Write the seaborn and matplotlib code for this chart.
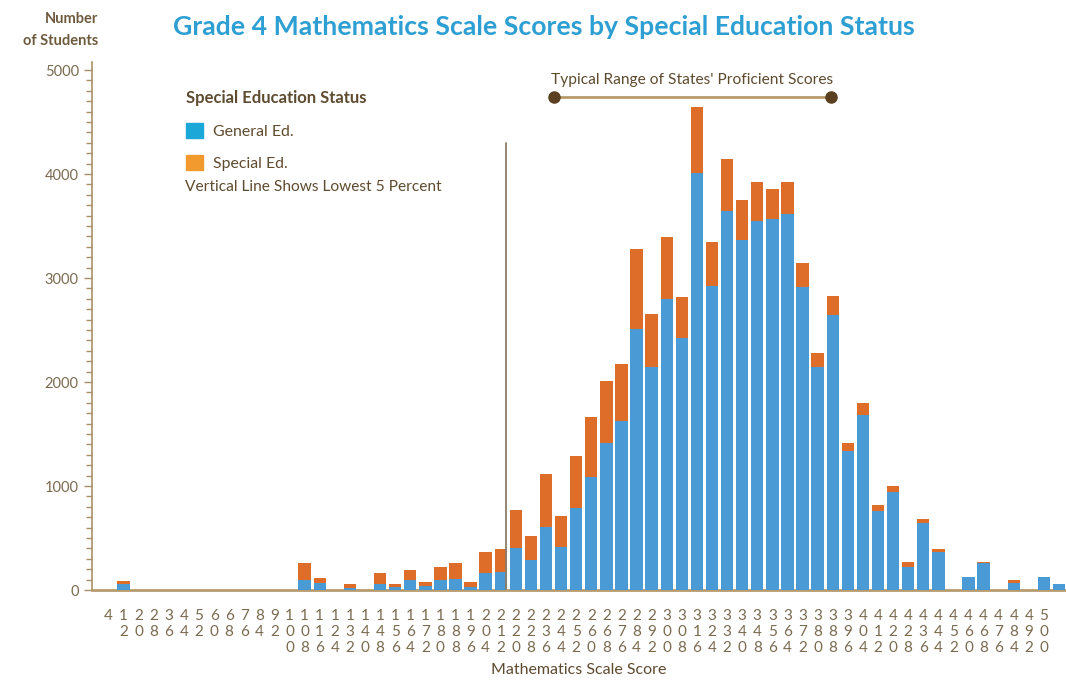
import numpy as np
import pandas as pd
import matplotlib
matplotlib.use("Agg")
import matplotlib.pyplot as plt
from matplotlib.patches import Patch
import seaborn as sns

# STYLE
sns.set_theme(style="white")
plt.rcParams["font.family"] = ["Lato", "DejaVu Sans"]

# DATA
scores = list(range(4, 509, 8))  # bins 4 .. 508

general_ed = [
    0, 55, 0, 0, 0, 0, 0, 0, 0, 0, 0, 0, 0, 96, 64, 0,
    15, 0, 55, 25, 96, 35, 96, 109, 25, 167, 173, 401, 288, 609, 417, 785,
    1090, 1410, 1628, 2510, 2141, 2795, 2420, 4006, 2923, 3647, 3365, 3548, 3564, 3612, 2917, 2147,
    2644, 1340, 1683, 762, 939, 218, 647, 369, 0, 122, 264, 0, 70, 0, 122, 55,
]
special_ed = [
    0, 35, 0, 0, 0, 0, 0, 0, 0, 0, 0, 0, 0, 160, 55, 0,
    40, 0, 105, 33, 96, 40, 122, 147, 49, 202, 218, 368, 231, 503, 298, 503,
    570, 603, 545, 769, 510, 602, 400, 641, 420, 494, 385, 372, 292, 308, 224, 129,
    186, 77, 112, 58, 64, 54, 32, 22, 0, 6, 8, 0, 26, 0, 6, 0,
]

LOWEST_5_PCT = 214.8          # score at the vertical line
PROFICIENT_RANGE = (240, 387)  # typical range of states' proficient scores

# COLORS
BAR_BLUE = "#4A9AD6"
BAR_ORANGE = "#DE6D29"
LEG_BLUE = "#1BA8D8"
LEG_ORANGE = "#F29A2E"
TITLE_BLUE = "#2E9FD2"
BROWN = "#5E4B30"
TAN = "#A8916A"

df = pd.DataFrame({
    "score": [str(s) for s in scores],
    "general": general_ed,
    "total": np.array(general_ed) + np.array(special_ed),
})


def to_pos(score):
    return (score - scores[0]) / (scores[1] - scores[0])


fig = plt.figure(figsize=(10.66, 6.82), dpi=100)
ax = fig.add_axes([92 / 1066, 1 - 590 / 682, 974 / 1066, 528 / 682])

# stacked bars: total (orange) behind, general (blue) in front
sns.barplot(data=df, x="score", y="total", color=BAR_ORANGE, width=0.82,
            saturation=1, linewidth=0, ax=ax, zorder=2)
sns.barplot(data=df, x="score", y="general", color=BAR_BLUE, width=0.82,
            saturation=1, linewidth=0, ax=ax, zorder=3)

ax.set_xlim(-1.09, 63.46)
ax.set_ylim(0, 5077)

# y axis
ax.set_yticks(np.arange(0, 5001, 1000))
ax.set_yticks(np.arange(0, 5001, 100), minor=True)
ax.tick_params(axis="y", which="both", direction="out", color=TAN,
               labelcolor="#7A6A50", labelsize=10.5, left=True)
ax.tick_params(axis="y", which="major", length=6, width=1)
ax.tick_params(axis="y", which="minor", length=4, width=1)

# x axis: stacked digits
labels = ["\n".join(str(s)) for s in scores]
labels[-1] = ""
ax.set_xticks(range(len(scores)))
ax.set_xticklabels(labels, linespacing=1.15, fontsize=11, color="#7A6A50", va="top")
ax.tick_params(axis="x", length=0, pad=14)

ax.set_xlabel("Mathematics Scale Score", fontsize=11.5, color=BROWN, labelpad=6)
ax.set_ylabel("")

for side in ["top", "right"]:
    ax.spines[side].set_visible(False)
ax.spines["left"].set_color(TAN)
ax.spines["left"].set_linewidth(1.2)
ax.spines["bottom"].set_color("#B59B6E")
ax.spines["bottom"].set_linewidth(2)

# lowest 5 percent line
x_cut = to_pos(LOWEST_5_PCT)
ax.plot([x_cut, x_cut], [0, 4300], color="#8C7D6A", lw=1.3, zorder=4)

# proficient range bracket
x0, x1 = to_pos(PROFICIENT_RANGE[0]), to_pos(PROFICIENT_RANGE[1])
ax.plot([x0, x1], [4740, 4740], color="#B89A6A", lw=2, zorder=4, clip_on=False)
ax.plot([x0, x1], [4740, 4740], "o", color="#5A4020", ms=8, zorder=5, clip_on=False)
ax.text((x0 + x1) / 2, 4900, "Typical Range of States' Proficient Scores",
        ha="center", va="center", fontsize=11.2, color=BROWN)

# legend
handles = [Patch(color=LEG_BLUE, label="General Ed."),
           Patch(color=LEG_ORANGE, label="Special Ed.")]
leg = ax.legend(handles=handles, title="Special Education Status",
                loc="upper left", bbox_to_anchor=(0.088, 0.962), frameon=False,
                fontsize=11.4, title_fontsize=12, handlelength=1.1,
                handleheight=1.1, handletextpad=0.6, labelspacing=1.05,
                borderpad=0, alignment="left")
leg.get_title().set_color(BROWN)
leg.get_title().set_fontweight("bold")
for t in leg.get_texts():
    t.set_color(BROWN)
ax.text(0.0955, 0.764, "Vertical Line Shows Lowest 5 Percent", transform=ax.transAxes,
        ha="left", va="center", fontsize=11.2, color=BROWN)

# titles
fig.text(0.5105, 0.960, "Grade 4 Mathematics Scale Scores by Special Education Status",
         ha="center", va="center", fontsize=19.2, fontweight="bold", color=TITLE_BLUE)
fig.text(98 / 1066, 1 - 30 / 682, "Number\nof Students", ha="right", va="center",
         fontsize=10.5, fontweight="bold", color="#6E5B3E", linespacing=1.75)

fig.savefig("out.png", dpi=100)
